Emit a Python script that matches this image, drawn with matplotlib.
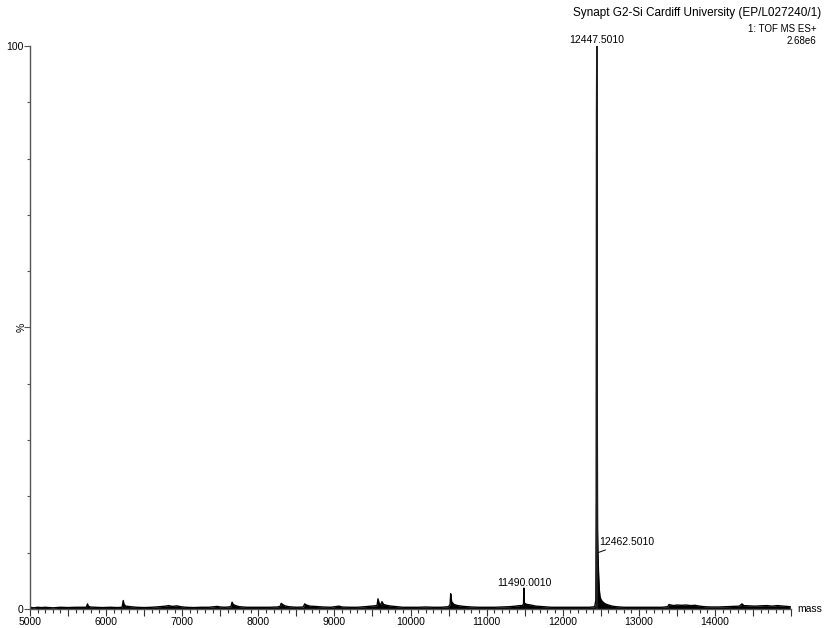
import numpy as np
import matplotlib.pyplot as plt
from matplotlib.ticker import MultipleLocator, FuncFormatter

plt.rcParams['font.family'] = ['Liberation Sans', 'DejaVu Sans']

# spectrum trace (mass, % of base peak)
mass = [5000, 5050, 5100, 5150, 5200, 5300, 5400, 5500, 5600, 5700, 5740, 5755, 5765, 5790,
        5850, 5950, 6050, 6150, 6210, 6225, 6235, 6260, 6320, 6400, 6500, 6600, 6700, 6780,
        6820, 6870, 6930, 6980, 7050, 7150, 7250, 7350, 7460, 7500, 7560, 7640, 7655, 7670,
        7700, 7750, 7850, 7950, 8050, 8150, 8250, 8290, 8300, 8320, 8350, 8400, 8500, 8590,
        8610, 8630, 8680, 8750, 8850, 8950, 9030, 9060, 9100, 9200, 9300, 9400, 9480, 9560,
        9573, 9590, 9610, 9625, 9645, 9700, 9750, 9820, 9900, 10000, 10100, 10200, 10300,
        10400, 10500, 10520, 10528, 10540, 10570, 10620, 10700, 10800, 10900, 11000, 11100,
        11200, 11300, 11380, 11430, 11470, 11485, 11490.001, 11495, 11500, 11530, 11580,
        11650, 11750, 11850, 11950, 12050, 12150, 12250, 12350, 12420, 12435, 12440, 12444,
        12447.501, 12451, 12455, 12458, 12462.501, 12466, 12472, 12480, 12490, 12505, 12530,
        12560, 12600, 12650, 12700, 12800, 12900, 13000, 13100, 13200, 13300, 13380, 13397,
        13420, 13460, 13500, 13560, 13620, 13680, 13740, 13800, 13860, 13950, 14050, 14150,
        14250, 14320, 14356, 14380, 14450, 14520, 14600, 14680, 14750, 14820, 14900, 14990]
pct = [0.3, 0.2, 0.3, 0.25, 0.3, 0.2, 0.3, 0.25, 0.3, 0.3, 0.3, 0.9, 0.5, 0.35,
       0.3, 0.25, 0.3, 0.25, 0.3, 1.5, 0.8, 0.5, 0.4, 0.3, 0.25, 0.3, 0.4, 0.5,
       0.6, 0.45, 0.55, 0.4, 0.3, 0.25, 0.3, 0.3, 0.45, 0.35, 0.3, 0.4, 1.2, 0.8,
       0.6, 0.4, 0.3, 0.3, 0.3, 0.3, 0.35, 0.5, 1.0, 0.8, 0.55, 0.4, 0.3, 0.35,
       0.9, 0.7, 0.5, 0.45, 0.35, 0.3, 0.45, 0.5, 0.35, 0.3, 0.3, 0.4, 0.5, 0.6,
       1.8, 0.9, 0.8, 1.3, 0.8, 0.6, 0.5, 0.4, 0.3, 0.3, 0.3, 0.35, 0.3,
       0.3, 0.4, 0.8, 2.7, 1.3, 0.8, 0.6, 0.45, 0.35, 0.3, 0.3, 0.3,
       0.35, 0.4, 0.5, 0.6, 0.6, 0.9, 3.7, 1.2, 1.0, 0.8, 0.7,
       0.5, 0.4, 0.3, 0.3, 0.3, 0.3, 0.3, 0.3, 0.4, 1.5, 20, 88,
       100, 80, 30, 14, 10, 8.5, 6, 3.5, 2.2, 1.6, 1.2,
       0.9, 0.7, 0.5, 0.4, 0.3, 0.3, 0.3, 0.3, 0.3, 0.3, 0.4, 0.8,
       0.7, 0.6, 0.7, 0.65, 0.7, 0.6, 0.65, 0.5, 0.4, 0.35, 0.35, 0.4,
       0.45, 0.5, 0.9, 0.6, 0.55, 0.5, 0.55, 0.6, 0.5, 0.6, 0.5, 0.4]

# annotated peaks
label_mass = [12447.501, 12462.501, 11490.001]
label_text = ['12447.5010', '12462.5010', '11490.0010']

fig = plt.figure(figsize=(8.25, 6.28), dpi=100)
ax = fig.add_axes([0.0364, 0.0303, 0.9224, 0.8965])

ax.fill_between(mass, 0, pct, color='black', lw=0)
ax.plot(mass, pct, color='black', lw=1.0)
# base peak stick
ax.vlines(label_mass[0], 0, np.interp(label_mass[0], mass, pct), color='#222222', lw=1.3)

ax.set_xlim(5000, 15000)
ax.set_ylim(0, 100)

for s in ['top', 'right']:
    ax.spines[s].set_visible(False)
for s in ['left', 'bottom']:
    ax.spines[s].set_color('#555555')
    ax.spines[s].set_linewidth(1.0)

ax.xaxis.set_major_locator(MultipleLocator(500))
ax.xaxis.set_minor_locator(MultipleLocator(100))
ax.xaxis.set_major_formatter(FuncFormatter(lambda v, p: f'{int(v)}' if v % 1000 == 0 and v < 15000 else ''))
ax.tick_params(axis='x', which='major', length=5, width=0.8, pad=1, labelsize=7.5, color='#333333')
ax.tick_params(axis='x', which='minor', length=3, width=0.8, color='#333333')

ax.yaxis.set_major_locator(MultipleLocator(50))
ax.yaxis.set_minor_locator(MultipleLocator(10))
ax.yaxis.set_major_formatter(FuncFormatter(lambda v, p: {0: '0', 100: '100'}.get(int(v), '')))
ax.tick_params(axis='y', which='major', length=4, width=0.8, pad=1, labelsize=7.5, color='#555555')
ax.tick_params(axis='y', which='minor', length=2.5, width=0.8, color='#555555')

ax.text(-0.011, 0.5, '%', transform=ax.transAxes, rotation=90, ha='center', va='center', fontsize=7.5)
ax.text(1.008, 0.0, 'mass', transform=ax.transAxes, ha='left', va='center', fontsize=7.5)

# peak labels
top_h = np.interp(label_mass[0], mass, pct)
ax.annotate(label_text[0], (label_mass[0], top_h), xytext=(0, 0.5), textcoords='offset points',
            ha='center', va='bottom', fontsize=7.5)
h2 = np.interp(label_mass[1], mass, pct)
ax.annotate(label_text[1], (label_mass[1], h2), xytext=(1, 4), textcoords='offset points',
            ha='left', va='bottom', fontsize=7.5,
            arrowprops=dict(arrowstyle='-', lw=0.7, color='black', shrinkA=0, shrinkB=0))
h3 = np.interp(label_mass[2], mass, pct)
ax.annotate(label_text[2], (label_mass[2], h3), xytext=(0, 0), textcoords='offset points',
            ha='center', va='bottom', fontsize=7.5)

fig.text(0.996, 0.980, 'Synapt G2-Si Cardiff University (EP/L027240/1)', ha='right', va='center', fontsize=8.5)
fig.text(0.990, 0.954, '1: TOF MS ES+', ha='right', va='center', fontsize=7)
fig.text(0.990, 0.935, '2.68e6', ha='right', va='center', fontsize=7)

fig.savefig('out.png', dpi=100)
